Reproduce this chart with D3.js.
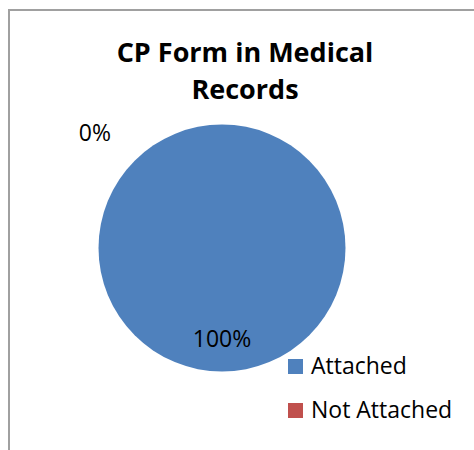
<!DOCTYPE html>
<html>
<head>
<meta charset="utf-8">
<title>CP Form in Medical Records</title>
<style>
body { margin: 0; background: #fff; }
#chart { display: block; }
text { font-family: "Open Sans", sans-serif; fill: #000; }
.title { font-size: 27px; font-weight: bold; }
.lbl { font-size: 23px; }
.legend-text { font-size: 23px; }
</style>
</head>
<body>
<svg id="chart" width="474" height="450"></svg>
<script src="https://d3js.org/d3.v7.min.js"></script>
<script>
// data
const categories = ["Attached", "Not Attached"];
const values = [100, 0];
const colors = ["#4F81BD", "#C0504D"];
const titleLines = ["CP Form in Medical", "Records"];

const svg = d3.select("#chart");
const W = 474, H = 450;

// chart frame (only left and top edges show in the crop)
svg.append("path")
  .attr("d", `M9,${H} L9,10 L${W},10`)
  .attr("fill", "none")
  .attr("stroke", "#a0a0a0")
  .attr("stroke-width", 2);

// title
svg.selectAll(".title")
  .data(titleLines)
  .enter().append("text")
  .attr("class", "title")
  .attr("x", 245)
  .attr("y", (d, i) => 62 + i * 37)
  .attr("text-anchor", "middle")
  .text(d => d);

// pie
const cx = 222, cy = 248, r = 123.5;
const total = d3.sum(values);
const pie = d3.pie().sort(null).value(d => d.value);
const arcs = pie(categories.map((c, i) => ({ name: c, value: values[i], color: colors[i] })));
const arc = d3.arc().innerRadius(0).outerRadius(r);

const g = svg.append("g").attr("transform", `translate(${cx},${cy})`);
g.selectAll("path")
  .data(arcs)
  .enter().append("path")
  .attr("d", arc)
  .attr("fill", d => d.data.color);

// data labels
const labelArc = d3.arc().innerRadius(92).outerRadius(92);
g.selectAll(".lbl")
  .data(arcs)
  .enter().append("text")
  .attr("class", "lbl")
  .attr("text-anchor", "middle")
  .attr("transform", d => {
    if (d.data.value === 0) {
      // empty slice: label sits outside the rim, up and to the left
      const p = d3.pointRadial(d.startAngle - 0.84, r + 50);
      return `translate(${p[0] + 2},${p[1] + 9})`;
    }
    const c = labelArc.centroid(d);
    return `translate(${c[0]},${c[1] + 7})`;
  })
  .text(d => Math.round(d.data.value / total * 100) + "%");

// legend
const legend = svg.append("g").attr("transform", "translate(288,359)");
const item = legend.selectAll("g")
  .data(categories)
  .enter().append("g")
  .attr("transform", (d, i) => `translate(0,${i * 44})`);
item.append("rect")
  .attr("width", 15)
  .attr("height", 15)
  .attr("fill", (d, i) => colors[i]);
item.append("text")
  .attr("class", "legend-text")
  .attr("x", 23)
  .attr("y", 15)
  .text(d => d);
</script>
</body>
</html>
